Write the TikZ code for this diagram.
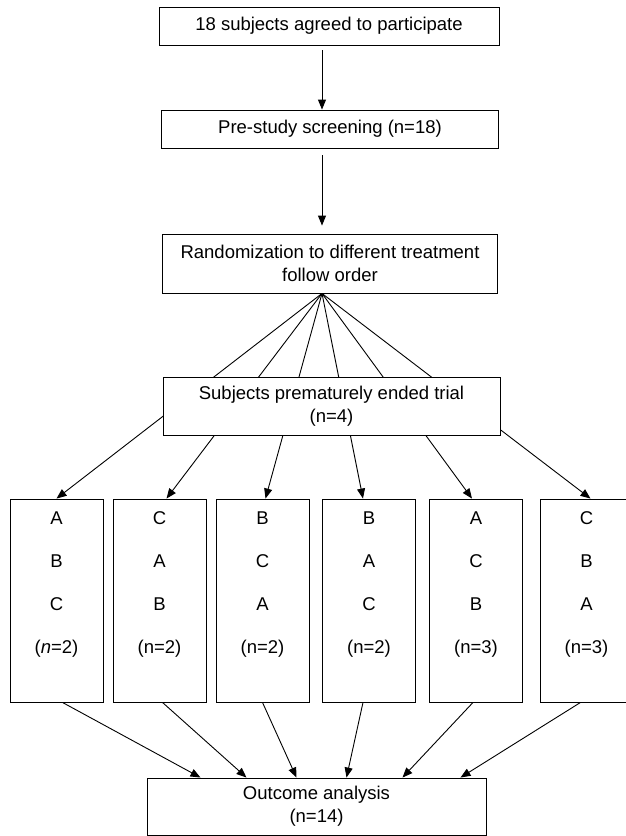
\documentclass[tikz,border=0pt]{standalone}
\usepackage{fontspec}
\setmainfont{Liberation Sans}
\usetikzlibrary{arrows.meta}

\begin{document}
\begin{tikzpicture}[
  x=1pt, y=-1pt,
  font=\fontsize{18.5}{23}\selectfont,
  box/.style={draw=black, line width=0.9pt, align=center, fill=white, inner sep=2pt},
  seqbox/.style={box, minimum width=93pt, minimum height=203pt, font=\fontsize{18.5}{43}\selectfont, text depth=36pt},
  arr/.style={-{Triangle[length=10pt,width=8pt]}, line width=0.9pt, draw=black}
]
\useasboundingbox (0,0) rectangle (626,836);
\node[box, minimum width=340pt, minimum height=38pt] (agree) at (329,26) {18 subjects agreed to participate};
\node[box, minimum width=337pt, minimum height=38pt] (screen) at (330,129) {Pre-study screening (n=18)};
\node[box, minimum width=335pt, minimum height=59pt] (rand) at (330,263.5) {Randomization to different treatment\\follow order};
\node[seqbox] (abc) at (56.5,600.5) {A\\B\\C\\(\textit{n}=2)};
\node[seqbox] (cab) at (159.5,600.5) {C\\A\\B\\(n=2)};
\node[seqbox] (bca) at (262.5,600.5) {B\\C\\A\\(n=2)};
\node[seqbox] (bac) at (369,600.5) {B\\A\\C\\(n=2)};
\node[seqbox] (acb) at (476,600.5) {A\\C\\B\\(n=3)};
\node[seqbox] (cba) at (586.5,600.5) {C\\B\\A\\(n=3)};
\node[box, minimum width=339pt, minimum height=57pt] (outcome) at (316.5,806.5) {Outcome analysis\\(n=14)};
\draw[arr] ([xshift=-7pt,yshift=-5pt]agree.south) -- ([xshift=-8pt]screen.north);
\draw[arr] ([xshift=-8pt,yshift=-7pt]screen.south) -- ([xshift=-8pt,yshift=8pt]rand.north);
\coordinate (fan) at ([xshift=-8pt]rand.south);
\foreach \b/\dx in {abc/0,cab/7,bca/3,bac/-6,acb/-4,cba/4}
  \draw[arr] (fan) -- ([xshift=\dx pt]\b.north);
\foreach \b/\sx/\tx in {abc/6/-116,cab/3/-70,bca/0/-20,bac/-6/30,acb/-3/86,cba/-6/144}
  \draw[arr] ([xshift=\sx pt]\b.south) -- ([xshift=\tx pt]outcome.north);
% drawn last so that it covers the fan lines
\node[box, minimum width=337pt, minimum height=58pt] (drop) at (331.5,406) {Subjects prematurely ended trial\\(n=4)};
\end{tikzpicture}
\end{document}
